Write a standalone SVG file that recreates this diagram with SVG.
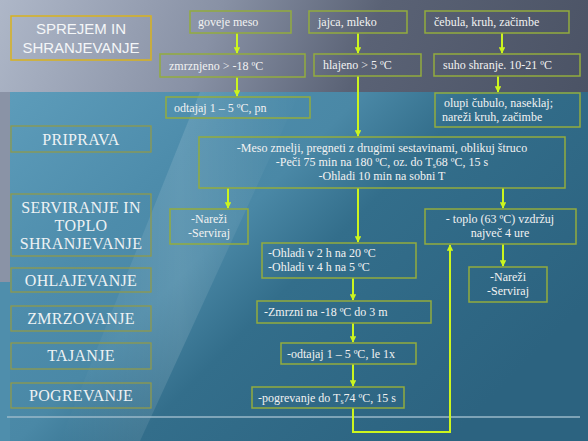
<svg xmlns="http://www.w3.org/2000/svg" width="588" height="441" viewBox="0 0 588 441">
<defs>
<linearGradient id="top" x1="0" y1="0" x2="1" y2="0.3">
<stop offset="0" stop-color="#aeb7c8"/>
<stop offset="0.35" stop-color="#8891a5"/>
<stop offset="0.6" stop-color="#5a6275"/>
<stop offset="1" stop-color="#4a5264"/>
</linearGradient>
<linearGradient id="blue" x1="0" y1="0" x2="1" y2="0.6">
<stop offset="0" stop-color="#5d9cba"/>
<stop offset="0.3" stop-color="#4d8cab"/>
<stop offset="0.45" stop-color="#4a88a6"/>
<stop offset="0.6" stop-color="#336e8b"/>
<stop offset="1" stop-color="#2c6380"/>
</linearGradient>
<linearGradient id="streak" x1="0" y1="0" x2="1" y2="0">
<stop offset="0" stop-color="#ffffff" stop-opacity="0"/>
<stop offset="0.5" stop-color="#ffffff" stop-opacity="0.12"/>
<stop offset="1" stop-color="#ffffff" stop-opacity="0"/>
</linearGradient>
<marker id="ah" viewBox="0 0 10 10" refX="9" refY="5" markerWidth="3.2" markerHeight="3.2" orient="auto">
<path d="M0,0 L10,5 L0,10 z" fill="#ccf51e"/>
</marker>
</defs>
<style>
.box{fill:none;stroke:#93ac3e;stroke-width:1.5}
.lab{fill:none;stroke:#8f9a4c;stroke-width:1.3}
.t{font-family:"Liberation Serif",serif;font-size:12px;fill:#f2f2f2}
.c{text-anchor:middle}
.L{font-family:"Liberation Serif",serif;font-size:16px;fill:#eef2f4;text-anchor:middle;letter-spacing:0.3px}
.con{fill:none;stroke:#ccf51e;stroke-width:2}
</style>
<rect width="588" height="441" fill="url(#top)"/>
<rect x="0" y="92" width="588" height="349" fill="#8a93a6"/>
<rect x="10" y="92" width="578" height="349" fill="url(#blue)"/>
<rect x="0" y="282" width="10" height="159" fill="#4f8eac"/>
<polygon points="60,441 200,92 300,92 140,441" fill="url(#streak)"/>
<line x1="7" y1="417" x2="580" y2="417" stroke="#9ab8c8" stroke-width="1.5"/>

<g id="connectors">
<line class="con" x1="237" y1="33" x2="237" y2="53" marker-end="url(#ah)"/>
<line class="con" x1="358" y1="33" x2="358" y2="53" marker-end="url(#ah)"/>
<line class="con" x1="502" y1="33" x2="502" y2="53" marker-end="url(#ah)"/>
<line class="con" x1="237" y1="77" x2="237" y2="96" marker-end="url(#ah)"/>
<line class="con" x1="498" y1="76" x2="498" y2="92" marker-end="url(#ah)"/>
<line class="con" x1="358" y1="76" x2="358" y2="136" marker-end="url(#ah)"/>
<line class="con" x1="228" y1="188" x2="228" y2="208" marker-end="url(#ah)"/>
<line class="con" x1="358" y1="188" x2="358" y2="242" marker-end="url(#ah)"/>
<line class="con" x1="503" y1="188" x2="503" y2="208" marker-end="url(#ah)"/>
<line class="con" x1="503" y1="244" x2="503" y2="266" marker-end="url(#ah)"/>
<line class="con" x1="353" y1="278" x2="353" y2="300" marker-end="url(#ah)"/>
<line class="con" x1="353" y1="323" x2="353" y2="342" marker-end="url(#ah)"/>
<line class="con" x1="353" y1="364" x2="353" y2="386" marker-end="url(#ah)"/>
<polyline class="con" points="353,408 353,432 450,432 450,245" marker-end="url(#ah)"/>
</g>

<g id="n-sprejem"><rect x="11" y="16" width="140" height="44" fill="none" stroke="#d9b21e" stroke-width="1.5"/>
<text x="81" y="34" font-family="Liberation Sans,sans-serif" font-size="15" fill="#f4f6f8" text-anchor="middle">SPREJEM IN</text>
<text x="81" y="53" font-family="Liberation Sans,sans-serif" font-size="15" fill="#f4f6f8" text-anchor="middle">SHRANJEVANJE</text></g>

<g id="n-goveje"><rect class="box" x="190" y="11" width="101" height="22"/><text class="t" x="198" y="26">goveje meso</text></g>
<g id="n-jajca"><rect class="box" x="309" y="11" width="98" height="22"/><text class="t" x="318" y="26">jajca, mleko</text></g>
<g id="n-cebula"><rect class="box" x="425" y="11" width="144" height="22"/><text class="t" x="434" y="26">čebula, kruh, začimbe</text></g>
<g id="n-zmrz"><rect class="box" x="160" y="54" width="145" height="23"/><text class="t" x="169" y="70">zmrznjeno &gt; -18 ºC</text></g>
<g id="n-hlaj"><rect class="box" x="314" y="54" width="107" height="22"/><text class="t" x="323" y="69">hlajeno &gt; 5 ºC</text></g>
<g id="n-suho"><rect class="box" x="434" y="54" width="146" height="22"/><text class="t" x="443" y="69">suho shranje. 10-21 ºC</text></g>
<g id="n-odtajaj"><rect class="box" x="166" y="97" width="144" height="21"/><text class="t" x="174" y="112">odtajaj 1 – 5 ºC, pn</text></g>
<g id="n-olupi"><rect class="box" x="435" y="93" width="145" height="34"/><text class="t" x="444" y="107">olupi čubulo, naseklaj;</text><text class="t" x="442" y="121">nareži kruh, začimbe</text></g>

<g id="n-priprava-lab"><rect class="lab" x="11" y="126" width="140" height="26"/><text class="L" x="81" y="145">PRIPRAVA</text></g>
<g id="n-big"><rect class="box" x="199" y="137" width="366" height="51"/>
<text class="t c" x="382" y="152">-Meso zmelji, pregneti z drugimi sestavinami, oblikuj štruco</text>
<text class="t c" x="382" y="166">-Peči 75 min na 180 ºC, oz. do T<tspan font-size="8" dy="2">s</tspan><tspan dy="-2">68 ºC, 15 s</tspan></text>
<text class="t c" x="382" y="180">-Ohladi 10 min na sobni T</text></g>

<g id="n-serv-lab"><rect class="lab" x="11" y="194" width="140" height="62"/><text class="L" x="81" y="213">SERVIRANJE IN</text><text class="L" x="81" y="231">TOPLO</text><text class="L" x="81" y="249">SHRANJEVANJE</text></g>
<g id="n-narezi1"><rect class="box" x="170" y="209" width="78" height="35"/><text class="t c" x="209" y="223">-Nareži</text><text class="t c" x="209" y="237">-Serviraj</text></g>
<g id="n-toplo"><rect class="box" x="425" y="209" width="151" height="35"/><text class="t c" x="500" y="223">- toplo (63 ºC) vzdržuj</text><text class="t c" x="500" y="237">največ 4 ure</text></g>
<g id="n-narezi2"><rect class="box" x="469" y="267" width="78" height="35"/><text class="t c" x="508" y="281">-Nareži</text><text class="t c" x="508" y="295">-Serviraj</text></g>
<g id="n-ohladi"><rect class="box" x="262" y="243" width="154" height="35"/><text class="t" x="268" y="257">-Ohladi v 2 h na 20 ºC</text><text class="t" x="268" y="271">-Ohladi v 4 h na 5 ºC</text></g>
<g id="n-ohl-lab"><rect class="lab" x="11" y="268" width="140" height="24"/><text class="L" x="81" y="286">OHLAJEVANJE</text></g>
<g id="n-zmrzni"><rect class="box" x="257" y="301" width="174" height="22"/><text class="t" x="264" y="316">-Zmrzni na -18 ºC do 3 m</text></g>
<g id="n-zmr-lab"><rect class="lab" x="11" y="306" width="140" height="25"/><text class="L" x="81" y="324">ZMRZOVANJE</text></g>
<g id="n-odtajaj2"><rect class="box" x="281" y="343" width="135" height="21"/><text class="t" x="287" y="358">-odtajaj 1 – 5 ºC, le 1x</text></g>
<g id="n-taj-lab"><rect class="lab" x="11" y="343" width="140" height="26"/><text class="L" x="81" y="361">TAJANJE</text></g>
<g id="n-pogrev"><rect class="box" x="252" y="387" width="152" height="21"/><text class="t" x="258" y="402">-pogrevanje do T<tspan font-size="8" dy="2">s</tspan><tspan dy="-2">74 ºC, 15 s</tspan></text></g>
<g id="n-pog-lab"><rect class="lab" x="11" y="383" width="140" height="25"/><text class="L" x="81" y="401">POGREVANJE</text></g>
</svg>
